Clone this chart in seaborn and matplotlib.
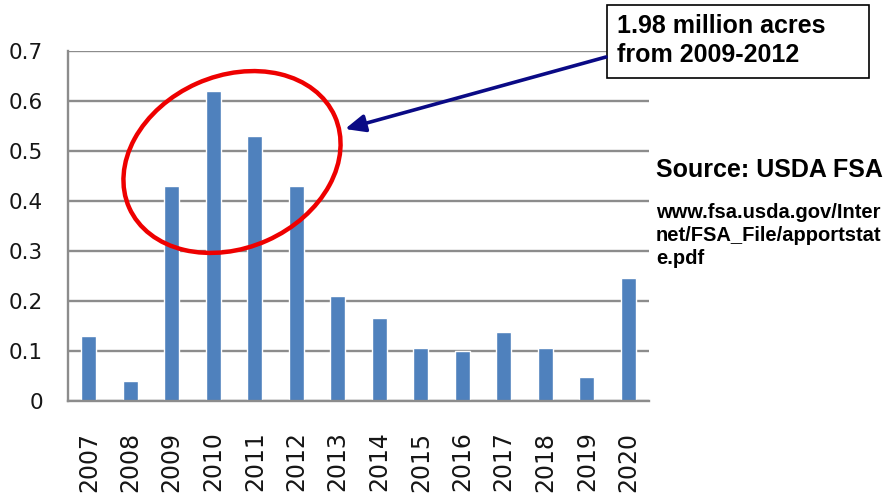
import matplotlib
matplotlib.use("Agg")
import matplotlib.pyplot as plt
import seaborn as sns
import pandas as pd
from matplotlib.patches import Ellipse, Rectangle

# data (million acres per year)
years = ["2007", "2008", "2009", "2010", "2011", "2012", "2013",
         "2014", "2015", "2016", "2017", "2018", "2019", "2020"]
acres = [0.13, 0.04, 0.43, 0.62, 0.53, 0.43, 0.21,
         0.167, 0.107, 0.10, 0.139, 0.107, 0.049, 0.247]
y_ticks = [0, 0.1, 0.2, 0.3, 0.4, 0.5, 0.6, 0.7]
y_labels = ["0", "0.1", "0.2", "0.3", "0.4", "0.5", "0.6", "0.7"]
callout_lines = ["1.98 million acres", "from 2009-2012"]
source_title = "Source: USDA FSA"
source_url_lines = ["www.fsa.usda.gov/Inter", "net/FSA_File/apportstat", "e.pdf"]

W, H = 892, 500
BAR = "#4F81BD"
GRID = "#8c8c8c"
TXT = "#161616"

sns.set_style("white")
plt.rcParams['font.family'] = ['DejaVu Sans']

fig = plt.figure(figsize=(W / 100, H / 100), dpi=100)
ax = fig.add_axes([68 / W, 1 - 401 / H, 581 / W, 350 / H])

df = pd.DataFrame({"year": years, "acres": acres})
sns.barplot(data=df, x="year", y="acres", color=BAR, saturation=1,
            width=0.37, ax=ax)

ax.set_xlim(-0.5, len(years) - 0.5)
ax.set_ylim(0, 0.7)
ax.set_xlabel("")
ax.set_ylabel("")

# gridlines + axis styling (Excel look)
ax.set_axisbelow(True)
ax.yaxis.grid(True, color=GRID, lw=1.7)
for s in ["top", "right"]:
    ax.spines[s].set_visible(False)
for s in ["left", "bottom"]:
    ax.spines[s].set_color(GRID)
    ax.spines[s].set_linewidth(1.7)

ax.set_yticks(y_ticks)
ax.set_yticklabels(y_labels)
ax.tick_params(axis="y", length=6, width=1.7, color=GRID, pad=12,
               labelsize=15.5, labelcolor=TXT)

ax.set_xticks(range(len(years)))
ax.set_xticklabels(years, rotation=90)
ax.set_xticks([i - 0.5 for i in range(len(years) + 1)], minor=True)
ax.tick_params(axis="x", which="major", length=0, pad=22,
               labelsize=17, labelcolor=TXT)
ax.tick_params(axis="x", which="minor", length=8, width=1.7, color=GRID,
               direction="out")

# overlay in pixel coordinates for the annotations
ov = fig.add_axes([0, 0, 1, 1], zorder=5)
ov.set_xlim(0, W)
ov.set_ylim(H, 0)
ov.axis("off")
ov.patch.set_alpha(0)

ov.add_patch(Ellipse((232, 162), 225, 172, angle=-24, fill=False,
                     edgecolor="#ee0000", lw=3.2))

ov.annotate("", xy=(345, 129), xytext=(606, 57),
            arrowprops=dict(arrowstyle="-|>,head_length=0.8,head_width=0.35",
                            color="#0a0a85", lw=2.6, mutation_scale=15,
                            shrinkA=0, shrinkB=0))

ov.add_patch(Rectangle((607, 5), 262, 73, facecolor="white",
                       edgecolor="black", lw=1.2))
for i, line in enumerate(callout_lines):
    ov.text(617, 33 + 29 * i, line, fontsize=18, fontweight="bold",
            family="Liberation Sans", va="baseline", color="black")

ov.text(656, 177, source_title, fontsize=18, fontweight="bold",
        family="Liberation Sans", va="baseline", color="black")
for i, line in enumerate(source_url_lines):
    ov.text(656, 218 + 23 * i, line, fontsize=14.5, fontweight="bold",
            family="Liberation Sans", va="baseline", color="black")

fig.savefig("out.png", dpi=100)
